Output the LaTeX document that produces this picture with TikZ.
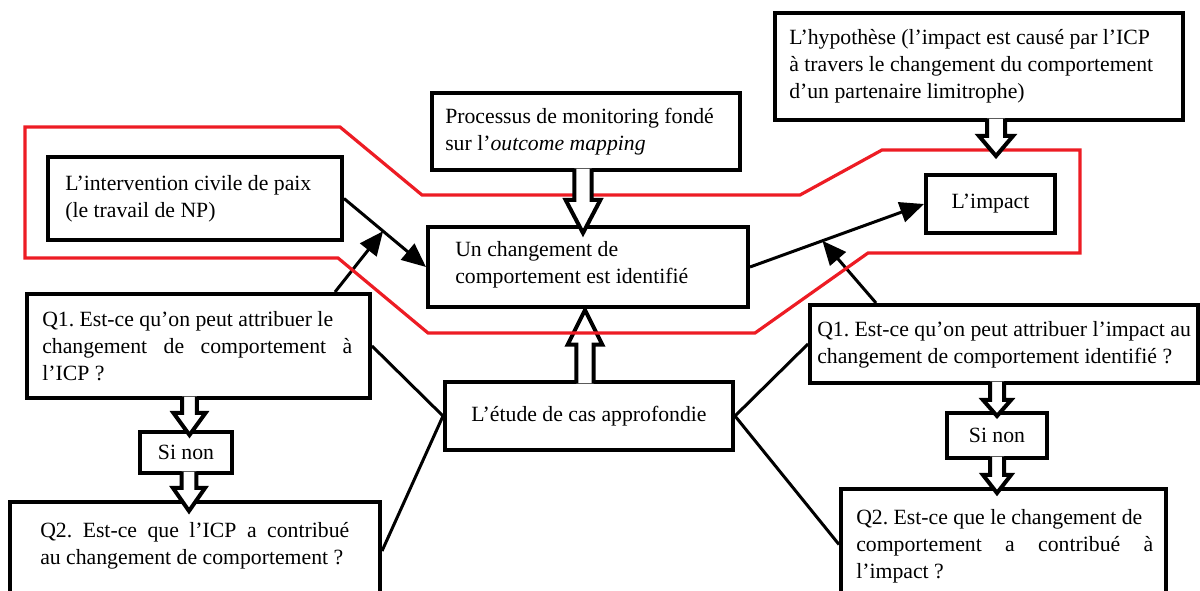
\documentclass[tikz,border=0pt]{standalone}
\usepackage{fontspec}
\setmainfont{Liberation Serif}
\usetikzlibrary{fit,calc,arrows.meta}
\definecolor{framered}{RGB}{237,28,36}
\frenchspacing

% Block arrow with an open tail: #1 start, #2 tip, #3 head length,
% #4 shaft half-width, #5 head half-width
\newcommand\hollowarrow[5]{%
  \coordinate (ha-s) at #1;
  \coordinate (ha-t) at #2;
  \coordinate (ha-s0) at ($(ha-s)!-2.5pt!(ha-t)$);
  \coordinate (ha-b) at ($(ha-t)!#3!(ha-s)$);
  \filldraw[hollow]
    ($(ha-s0)!#4!90:(ha-t)$) -- ($(ha-b)!#4!90:(ha-t)$) --
    ($(ha-b)!#5!90:(ha-t)$) -- (ha-t) -- ($(ha-b)!#5!-90:(ha-t)$) --
    ($(ha-b)!#4!-90:(ha-t)$) -- ($(ha-s0)!#4!-90:(ha-t)$);
}

\begin{document}
\begin{tikzpicture}[x=0.75pt,y=-0.75pt,
  box/.style={draw=black, line width=3pt, inner sep=0pt},
  txt/.style={font=\fontsize{16.3}{20.25}\selectfont, inner sep=0pt},
  lefttxt/.style={txt, align=left, anchor=west},
  midtxt/.style={txt, align=center},
  link/.style={draw=black, line width=2.25pt, -{Triangle[length=18pt,width=15.5pt]}},
  tie/.style={draw=black, line width=2.25pt},
  hollow/.style={draw=black, fill=white, line width=3pt, line join=miter},
  frame/.style={draw=framered, line width=2.4pt, line join=miter}]
\useasboundingbox (0,0) rectangle (1200,591);
\clip (0,0) rectangle (1200,591);

% ---- boxes ----
\node[box, fit={(48,157) (342,240)}] (int) {};
\node[box, fit={(432,93) (740,170)}] (proc) {};
\node[box, fit={(428,227) (748,307)}] (chg) {};
\node[box, fit={(775,13) (1183,120)}] (hyp) {};
\node[box, fit={(926,175) (1055,233)}] (imp) {};
\node[box, fit={(27,294) (370,398)}] (q1l) {};
\node[box, fit={(140,432) (232,473)}] (sinl) {};
\node[box, fit={(10,502) (380,600)}] (q2l) {};
\node[box, fit={(445,382) (733,450)}] (etu) {};
\node[box, fit={(810,305) (1198,383)}] (q1r) {};
\node[box, fit={(947,413) (1047,458)}] (sinr) {};
\node[box, fit={(841,489) (1166,600)}] (q2r) {};

% ---- texts ----
\node[lefttxt] (int-t) at (65,199) {L’intervention civile de paix\\(le travail de NP)};
\node[lefttxt] (proc-t) at (445,132) {Processus de monitoring fondé\\sur l’\textit{outcome mapping}};
\node[lefttxt] (chg-t) at (455,265) {Un changement de\\comportement est identifié};
\node[lefttxt] (hyp-t) at (789,66) {L’hypothèse (l’impact est causé par l’ICP\\à travers le changement du comportement\\d’un partenaire limitrophe)};
\node[midtxt] (imp-t) at (imp.center) {L’impact};
\node[lefttxt] (q1l-t) at (42,346) {Q1. Est-ce qu’on peut attribuer le\\\makebox[232.5pt][s]{changement de comportement à}\\l’ICP ?};
\node[midtxt] (sinl-t) at (sinl.center) {Si non};
\node[lefttxt] (q2l-t) at (40,546) {\makebox[231.75pt][s]{Q2. Est-ce que l’ICP a contribué}\\au changement de comportement ?};
\node[midtxt] (etu-t) at (etu.center) {L’étude de cas approfondie};
\node[lefttxt] (q1r-t) at (817,345) {Q1. Est-ce qu’on peut attribuer l’impact au\\changement de comportement identifié ?};
\node[midtxt] (sinr-t) at (sinr.center) {Si non};
\node[lefttxt] (q2r-t) at (856,546) {Q2. Est-ce que le changement de\\\makebox[222.75pt][s]{comportement a contribué à}\\l’impact ?};

% ---- connectors ----
\coordinate (m1) at ($(int.east)!0.477!(chg.west)$);
\coordinate (m2) at ($(chg.east)!0.416!(imp.west)$);
\draw[link] (int.east) -- (chg.west);
\draw[link] ($(q1l.north east)+(-37,0)$) -- (m1);
\draw[link] (chg.east) -- (imp.west);
\draw[link] ($(q1r.north west)+(68,0)$) -- (m2);
\draw[tie] (q1l.east) -- (etu.west) -- (q2l.east);
\draw[tie] (q1r.west) -- (etu.east) -- (q2r.west);

% arrow from the case study up to the identified change
\coordinate (e0) at ($(etu.north)+(-4,0)$);
\hollowarrow{(e0)}{($(e0 |- chg.south)+(0,1)$)}{26pt}{6.4pt}{13pt}

% ---- red outline ----
\draw[frame] (25,127) -- (340,127) -- (422,195) -- (800,195) -- (882,150)
  -- (1080,150) -- (1080,253) -- (868,253) -- (755,333) -- (428,333)
  -- (338,258) -- (25,258) -- cycle;

% ---- remaining block arrows ----
\coordinate (p0) at ($(proc.south)+(-3,0)$);
\hollowarrow{(p0)}{($(p0 |- chg.north)+(0,8)$)}{24.75pt}{6.4pt}{13pt}
\coordinate (h0) at ($(hyp.south)+(17,0)$);
\hollowarrow{(h0)}{($(h0 |- imp.north)+(0,-17)$)}{15pt}{6.75pt}{12.75pt}
\coordinate (l0) at ($(q1l.south)+(-9,0)$);
\hollowarrow{(l0)}{($(l0 |- sinl.north)+(0,5)$)}{16.5pt}{5.6pt}{12pt}
\coordinate (l1) at ($(sinl.south)+(3,0)$);
\hollowarrow{(l1)}{($(l1 |- q2l.north)+(0,11)$)}{17.25pt}{5.6pt}{12pt}
\coordinate (r0) at (q1r.south -| sinr.north);
\hollowarrow{(r0)}{($(r0 |- sinr.north)+(0,5)$)}{12pt}{5.25pt}{10.5pt}
\coordinate (r1) at (sinr.south);
\hollowarrow{(r1)}{($(r1 |- q2r.north)+(0,6)$)}{13.5pt}{5.25pt}{10.5pt}
\end{tikzpicture}
\end{document}
